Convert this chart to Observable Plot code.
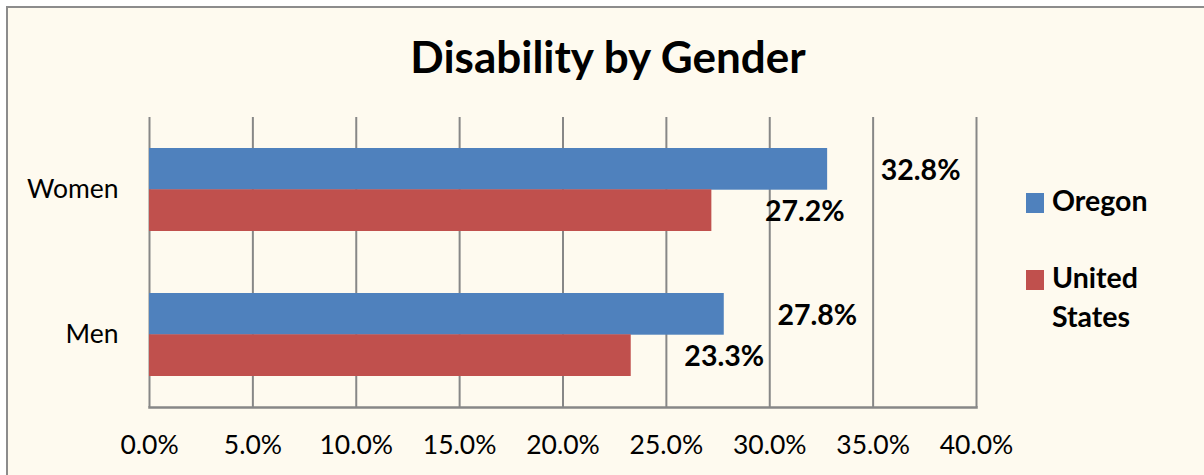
<!DOCTYPE html>
<html>
<head>
<meta charset="utf-8">
<script src="https://cdn.jsdelivr.net/npm/d3@7"></script>
<script src="https://cdn.jsdelivr.net/npm/@observablehq/plot@0.6"></script>
<style>
  html, body { margin: 0; padding: 0; background: #ffffff; }
  #wrap { position: relative; width: 1204px; height: 475px; overflow: hidden; font-family: Lato, sans-serif; }
  #box { position: absolute; left: 6px; top: 6px; width: 1210px; height: 480px; background: #FEFAEF;
         border-left: 2.5px solid #8c8c8c; border-top: 2.5px solid #8c8c8c; box-sizing: border-box; }
  #title { position: absolute; left: 0; width: 1216px; top: 31px; text-align: center; font-weight: bold; font-size: 44px; line-height: 50px; color: #000; }
  #chart { position: absolute; left: 0; top: 0; }
  .leg-item { position: absolute; left: 1026px; }
  .leg-sw { position: absolute; left: 0; width: 18px; height: 20px; }
  .leg-tx { position: absolute; left: 26px; width: 120px; font-weight: bold; font-size: 28.5px; line-height: 39px; color: #000; }
</style>
</head>
<body>
<div id="wrap">
  <div id="box"></div>
  <div id="title">Disability by Gender</div>
  <div id="chart"></div>
  <div id="legend"></div>
</div>
<script>
// ---- data ----
const genders = ["Women", "Men"];
const series = ["Oregon", "United States"];
const oregon = [32.8, 27.8];
const unitedStates = [27.2, 23.3];
const xTicks = [0, 5, 10, 15, 20, 25, 30, 35, 40];
const colors = ["#4F81BD", "#C0504D"];

const oregonData = genders.map((g, i) => ({gender: g, value: oregon[i]}));
const usData = genders.map((g, i) => ({gender: g, value: unitedStates[i]}));
const fmt = d => d.toFixed(1) + "%";

const half = 41.3; // half of the band: each series takes one half

const chart = Plot.plot({
  width: 1204,
  height: 475,
  marginLeft: 149,
  marginRight: 228,
  marginTop: 117,
  marginBottom: 68,
  style: {background: "transparent", fontFamily: "Lato, sans-serif", fontSize: "26.5px", color: "#000"},
  x: {domain: [0, 40], ticks: xTicks, tickFormat: fmt, tickSize: 0, tickPadding: 28, label: null},
  y: {domain: genders, paddingInner: 0.43, paddingOuter: 0.215, tickSize: 0, tickPadding: 31, label: null},
  marks: [
    Plot.gridX(xTicks, {stroke: "#878787", strokeOpacity: 1, strokeWidth: 2}),
    Plot.frame({anchor: "bottom", stroke: "#878787", strokeWidth: 2.5}),
    Plot.barX(oregonData, {x: "value", y: "gender", fill: colors[0], insetBottom: half}),
    Plot.barX(usData, {x: "value", y: "gender", fill: colors[1], insetTop: half}),
    Plot.text(oregonData, {x: "value", y: "gender", text: d => fmt(d.value), dx: 93, dy: -half / 2 + 2, fontWeight: "bold", fontSize: 28.5, fill: "#000"}),
    Plot.text(usData, {x: "value", y: "gender", text: d => fmt(d.value), dx: 93, dy: half / 2 + 1, fontWeight: "bold", fontSize: 28.5, fill: "#000"})
  ]
});
document.getElementById("chart").appendChild(chart);

// legend built from series + colors
const legend = document.getElementById("legend");
const legTops = [181, 258];
series.forEach((s, i) => {
  const item = document.createElement("div");
  item.className = "leg-item";
  item.style.top = legTops[i] + "px";
  const sw = document.createElement("div");
  sw.className = "leg-sw";
  sw.style.background = colors[i];
  sw.style.top = "12px";
  const tx = document.createElement("div");
  tx.className = "leg-tx";
  tx.textContent = s;
  item.appendChild(sw);
  item.appendChild(tx);
  legend.appendChild(item);
});
</script>
</body>
</html>
